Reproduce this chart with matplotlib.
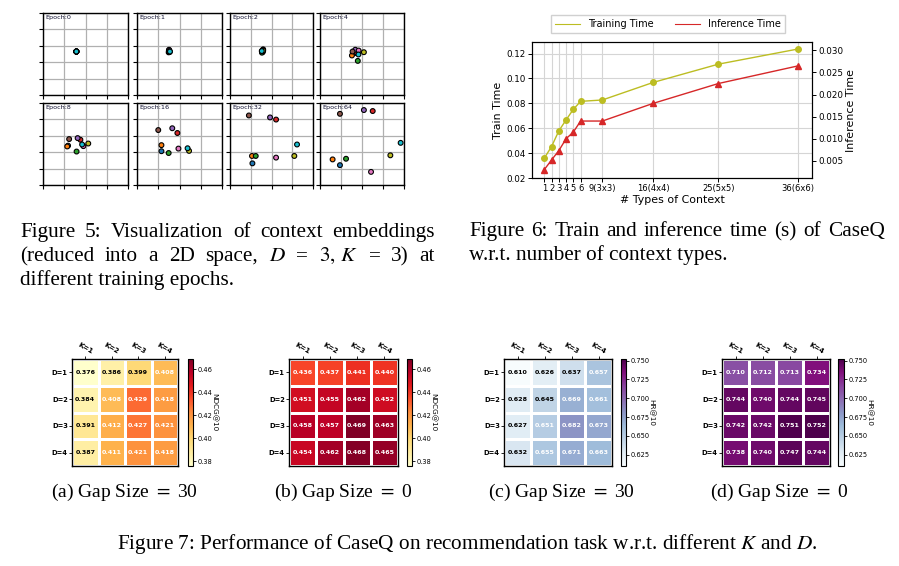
import numpy as np
import matplotlib
matplotlib.use("Agg")
import matplotlib.pyplot as plt
from matplotlib.colors import Normalize
from matplotlib.lines import Line2D
from matplotlib.ticker import FormatStrFormatter

W, H = 899, 566

# ---- Figure 5: context embeddings per epoch (9 contexts, tab10 order) ----
epochs = [0, 1, 2, 4, 8, 16, 32, 64]
ctx_colors = ["#1f77b4", "#ff7f0e", "#2ca02c", "#d62728", "#9467bd",
              "#8c564b", "#e377c2", "#bcbd22", "#17becf"]
emb_x = {
    0: [1.57] * 9,
    1: [1.50, 1.52, 1.49, 1.53, 1.51, 1.50, 1.54, 1.52, 1.55],
    2: [1.58, 1.55, 1.54, 1.60, 1.59, 1.56, 1.57, 1.60, 1.53],
    4: [1.63, 1.52, 1.80, 1.72, 1.68, 1.55, 1.84, 2.09, 1.83],
    8: [1.18, 1.14, 1.58, 1.76, 1.63, 1.23, 1.90, 2.13, 1.84],
    16: [1.15, 1.15, 1.49, 1.90, 1.66, 1.00, 1.95, 2.45, 2.38],
    32: [1.08, 1.06, 1.24, 2.22, 1.93, 0.91, 2.22, 3.10, 3.23],
    64: [0.95, 0.60, 1.24, 2.51, 2.09, 0.95, 2.43, 3.35, 3.84],
}
emb_y = {
    0: [2.65] * 9,
    1: [2.72, 2.66, 2.60, 2.70, 2.76, 2.68, 2.62, 2.64, 2.65],
    2: [2.62, 2.70, 2.58, 2.78, 2.76, 2.66, 2.72, 2.70, 2.68],
    4: [2.55, 2.41, 2.08, 2.60, 2.76, 2.65, 2.71, 2.61, 2.47],
    8: [2.40, 2.35, 2.04, 2.76, 2.86, 2.80, 2.37, 2.53, 2.47],
    16: [2.06, 2.43, 1.95, 3.17, 3.46, 3.35, 2.22, 2.08, 2.24],
    32: [1.32, 1.77, 1.77, 3.99, 4.12, 4.24, 1.67, 1.77, 2.47],
    64: [1.21, 1.56, 1.60, 4.51, 4.57, 4.34, 0.80, 1.81, 2.57],
}

# ---- Figure 6: train / inference time ----
n_types = [1, 2, 3, 4, 5, 6, 9, 16, 25, 36]
type_labels = ["1", "2", "3", "4", "5", "6", "9(3x3)", "16(4x4)", "25(5x5)", "36(6x6)"]
train_time = [0.0360, 0.0453, 0.0579, 0.0667, 0.0752, 0.0816, 0.0827, 0.0968, 0.1115, 0.1237]
infer_time = [0.0030, 0.0052, 0.0073, 0.0100, 0.0115, 0.0140, 0.0140, 0.0180, 0.0225, 0.0265]

# ---- Figure 7: heatmaps (rows D=1..4, cols K=1..4) ----
k_labels = ["K=1", "K=2", "K=3", "K=4"]
d_labels = ["D=1", "D=2", "D=3", "D=4"]
ndcg_gap30 = [[0.376, 0.386, 0.399, 0.408],
              [0.384, 0.408, 0.429, 0.418],
              [0.391, 0.412, 0.427, 0.421],
              [0.387, 0.411, 0.421, 0.418]]
ndcg_gap0 = [[0.436, 0.437, 0.441, 0.440],
             [0.451, 0.455, 0.462, 0.452],
             [0.458, 0.457, 0.469, 0.463],
             [0.454, 0.462, 0.468, 0.465]]
hr_gap30 = [[0.610, 0.626, 0.637, 0.657],
            [0.628, 0.645, 0.669, 0.661],
            [0.627, 0.651, 0.682, 0.673],
            [0.632, 0.655, 0.671, 0.663]]
hr_gap0 = [[0.710, 0.712, 0.713, 0.734],
           [0.744, 0.740, 0.744, 0.745],
           [0.742, 0.742, 0.751, 0.752],
           [0.738, 0.740, 0.747, 0.744]]

plt.rcParams["mathtext.fontset"] = "stix"
fig = plt.figure(figsize=(W / 100, H / 100), dpi=100)
CAP_FS = 15.3


def px_axes(x0, y0, x1, y1):
    return fig.add_axes([x0 / W, 1 - y1 / H, (x1 - x0) / W, (y1 - y0) / H])


def px_text(x, y, s, **kw):
    kw.setdefault("family", "Liberation Serif")
    kw.setdefault("fontsize", CAP_FS)
    return fig.text(x / W, 1 - y / H, s, va="baseline", **kw)


def justified(x0, x1, y, words):
    # spread the words so the line fills x0..x1, like the LaTeX caption
    rend = fig.canvas.get_renderer()
    texts = [px_text(x0, y, w) for w in words]
    widths = [t.get_window_extent(rend).width for t in texts]
    gap = (x1 - x0 - sum(widths)) / (len(words) - 1)
    x = x0
    for t, w in zip(texts, widths):
        t.set_x(x / W)
        x += w + gap


# Figure 5 panels
cols = [(43, 128), (137, 222), (230, 313), (320, 404)]
rows = [(13, 95), (103, 185)]
for i, ep in enumerate(epochs):
    (x0, x1), (y0, y1) = cols[i % 4], rows[i // 4]
    ax = px_axes(x0, y0, x1, y1)
    ax.scatter(emb_x[ep], emb_y[ep], c=ctx_colors, s=12, edgecolors="black",
               linewidths=0.8, zorder=3)
    ax.set_xlim(0, 4)
    ax.set_ylim(0, 5)
    ax.set_xticks(range(5))
    ax.set_yticks(range(6))
    ax.set_xticklabels([])
    ax.set_yticklabels([])
    ax.grid(True, color="#b0b0b0", linewidth=0.9)
    ax.tick_params(length=3, width=0.8)
    for sp in ax.spines.values():
        sp.set_linewidth(1.0)
    ax.text(0.03, 0.97, f"Epoch:{ep}", transform=ax.transAxes, fontsize=4.6,
            va="top", ha="left", color="#101030")

# Figure 6 line chart
ax = px_axes(532, 42, 812, 178)
ax2 = ax.twinx()
ax.plot(n_types, train_time, color="#bcbd22", marker="o", markersize=4,
        linewidth=1.0)
ax2.plot(n_types, infer_time, color="#d62728", marker="^", markersize=4,
         linewidth=1.0)
ax.set_xlim(-0.7, 37.9)
ax.set_ylim(0.02, 0.1293)
ax2.set_ylim(0.0011, 0.0319)
ax.set_xticks(n_types)
ax.set_xticklabels(type_labels)
ax.set_yticks([0.02, 0.04, 0.06, 0.08, 0.10, 0.12])
ax2.set_yticks([0.005, 0.010, 0.015, 0.020, 0.025, 0.030])
ax.tick_params(axis="y", labelsize=6.3, length=3, width=0.7, pad=1.5)
ax.tick_params(axis="x", labelsize=6.0, length=3, width=0.7, pad=1.5)
ax2.tick_params(labelsize=6.3, length=3, width=0.7, pad=1.5)
ax.grid(True, color="#d5d5d5", linewidth=0.8)
ax.set_xlabel("# Types of Context", fontsize=7.9, labelpad=1)
ax.set_ylabel("Train Time", fontsize=7.9, labelpad=2)
ax2.set_ylabel("Inference Time", fontsize=7.9, labelpad=2)
handles = [Line2D([], [], color="#bcbd22", lw=0.8), Line2D([], [], color="#d62728", lw=0.8)]
ax.legend(handles, ["Training Time", "Inference Time"], loc="lower center",
          bbox_to_anchor=(0.485, 1.03), ncol=2, fontsize=7, handlelength=2.6,
          columnspacing=2.2, borderpad=0.4, fancybox=False, framealpha=1,
          edgecolor="#d0d0d0")

# Figure 7 heatmaps
panels = [
    (ndcg_gap30, "YlOrRd", (0.376, 0.469), "NDCG@10", (72, 178, 188, 193),
     [0.38, 0.40, 0.42, 0.44, 0.46], "%.2f"),
    (ndcg_gap0, "YlOrRd", (0.376, 0.469), "NDCG@10", (289, 398, 407, 412),
     [0.38, 0.40, 0.42, 0.44, 0.46], "%.2f"),
    (hr_gap30, "BuPu", (0.610, 0.752), "HR@10", (504, 612, 621, 626),
     [0.625, 0.650, 0.675, 0.700, 0.725, 0.750], "%.3f"),
    (hr_gap0, "BuPu", (0.610, 0.752), "HR@10", (722, 830, 838, 844),
     [0.625, 0.650, 0.675, 0.700, 0.725, 0.750], "%.3f"),
]
hy0, hy1 = 359, 466
for vals, cmap, (vmin, vmax), cb_label, (hx0, hx1, cx0, cx1), cb_ticks, fmt in panels:
    vals = np.array(vals)
    ax = px_axes(hx0, hy0, hx1, hy1)
    norm = Normalize(vmin, vmax)
    mesh = ax.pcolormesh(vals, cmap=cmap, norm=norm, edgecolors="white", linewidth=1.0)
    ax.set_xlim(0, 4)
    ax.set_ylim(4, 0)
    ax.xaxis.tick_top()
    ax.set_xticks(np.arange(4) + 0.5)
    ax.set_xticklabels(k_labels, rotation=-30, ha="center", va="bottom",
                       fontsize=5.0, fontweight="bold")
    ax.set_yticks(np.arange(4) + 0.5)
    ax.set_yticklabels(d_labels, fontsize=4.9, fontweight="bold")
    ax.tick_params(length=2, width=0.6, pad=1)
    for sp in ax.spines.values():
        sp.set_linewidth(1.0)
    for r in range(4):
        for c in range(4):
            v = vals[r, c]
            col = "white" if norm(v) > 0.27 else "black"
            ax.text(c + 0.5, r + 0.5, f"{v:.3f}", ha="center", va="center",
                    fontsize=4.6, color=col, fontweight="bold")
    cax = px_axes(cx0, hy0, cx1, hy1)
    cb = fig.colorbar(mesh, cax=cax)
    cb.set_ticks(cb_ticks)
    cb.ax.yaxis.set_major_formatter(FormatStrFormatter(fmt))
    cb.ax.tick_params(labelsize=4.8, length=2, width=0.6, pad=1)
    cb.outline.set_linewidth(0.8)
    cb.set_label(cb_label, rotation=270, fontsize=5.2, labelpad=4)

# Captions
justified(20, 435, 237, ["Figure", "5:", "Visualization", "of", "context", "embeddings"])
justified(20, 435, 261, ["(reduced", "into", "a", "2D", "space,", "$D$", "=",
                         r"$3,\,K$", "=", "3)", "at"])
px_text(20, 285, "different training epochs.")
justified(469, 885, 236, ["Figure", "6:", "Train", "and", "inference", "time",
                          "(s)", "of", "CaseQ"])
px_text(469, 260, "w.r.t. number of context types.")
px_text(124, 497, r"(a) Gap Size $=$ 30", ha="center", fontsize=14)
px_text(343, 497, r"(b) Gap Size $=$ 0", ha="center", fontsize=14)
px_text(561, 497, r"(c) Gap Size $=$ 30", ha="center", fontsize=14)
px_text(779, 497, r"(d) Gap Size $=$ 0", ha="center", fontsize=14)
px_text(467, 549, r"Figure 7: Performance of CaseQ on recommendation task w.r.t. different $K$ and $D$.",
        ha="center")

fig.savefig("out.png", dpi=100)
